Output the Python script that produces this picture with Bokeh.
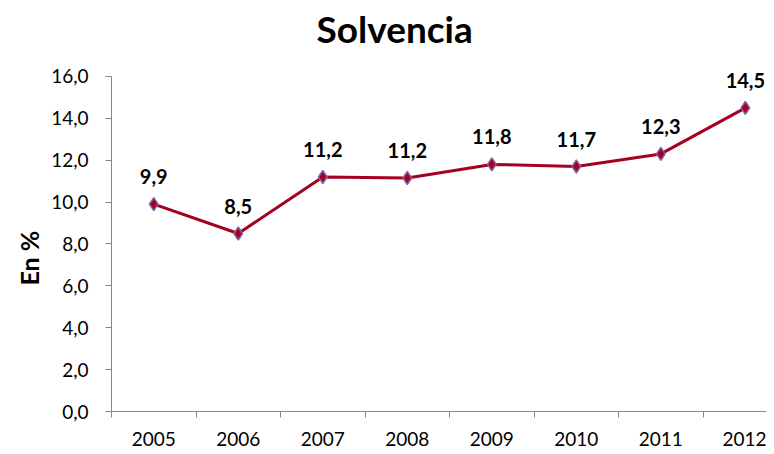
from bokeh.plotting import figure
from bokeh.models import FixedTicker, ColumnDataSource, CustomJSTickFormatter, Range1d, Label, Title
from bokeh.core.properties import value
from bokeh.embed import file_html
from bokeh.resources import INLINE

years = [2005, 2006, 2007, 2008, 2009, 2010, 2011, 2012]
solvencia = [9.9, 8.5, 11.2, 11.15, 11.8, 11.7, 12.3, 14.5]
labels = ["9,9", "8,5", "11,2", "11,2", "11,8", "11,7", "12,3", "14,5"]
y_ticks = [0, 2, 4, 6, 8, 10, 12, 14, 16]
title_text = "Solvencia"
y_title = "En %"

FONT = "Lato"

p = figure(width=766, height=454, output_backend="svg", toolbar_location=None,
           x_range=Range1d(2004.5, 2012.25), y_range=Range1d(0, 19.15),
           min_border_left=111, min_border_right=0, min_border_top=10, min_border_bottom=43)
p.outline_line_color = None
p.xgrid.grid_line_color = None
p.ygrid.grid_line_color = None

# chart title, centred over the whole chart
p.add_layout(Label(x=2007.85, y=18.3, text=title_text, text_font=FONT, text_font_size="37px",
                   text_font_style="bold", text_color="black", text_align="center",
                   text_baseline="middle"))

src = ColumnDataSource(dict(x=years, y=solvencia, lab=labels))
p.line("x", "y", source=src, line_color="#A50021", line_width=3)
p.scatter("x", "y", source=src, marker="diamond", size=13, fill_color="#A50021",
          line_color="#8064A2", line_width=1.5)
p.text("x", "y", text="lab", source=src, text_font=value(FONT), text_font_size="20px",
       text_font_style="bold", text_align="center", text_baseline="bottom",
       y_offset=-20, text_color="black")

# x axis
p.xaxis.ticker = FixedTicker(ticks=years, minor_ticks=[y + 0.5 for y in [2004] + years])
p.xaxis.major_tick_line_color = None
p.xaxis.minor_tick_out = 6
p.xaxis.minor_tick_in = 0
p.xaxis.minor_tick_line_color = "#868686"
p.xaxis.axis_line_color = "#868686"
p.xaxis.major_label_text_font = FONT
p.xaxis.major_label_text_font_size = "19px"
p.xaxis.major_label_text_color = "black"
p.xaxis.major_label_standoff = 14

# y axis (line limited to 0-16)
p.yaxis.bounds = (0, 16)
p.yaxis.ticker = FixedTicker(ticks=y_ticks, minor_ticks=[])
p.yaxis.formatter = CustomJSTickFormatter(code="return tick.toFixed(1).replace('.', ',');")
p.yaxis.axis_line_color = "#868686"
p.yaxis.major_tick_line_color = "#868686"
p.yaxis.major_tick_out = 6
p.yaxis.major_tick_in = 0
p.yaxis.major_label_text_font = FONT
p.yaxis.major_label_text_font_size = "19px"
p.yaxis.major_label_text_color = "black"
p.yaxis.major_label_standoff = 17

# y axis title, placed in the left panel
p.add_layout(Title(text=y_title, text_font=FONT, text_font_size="25px", text_font_style="bold",
                   text_color="black", align="left", offset=126, standoff=9), "left")

open("out.html", "w").write(file_html(p, INLINE))
